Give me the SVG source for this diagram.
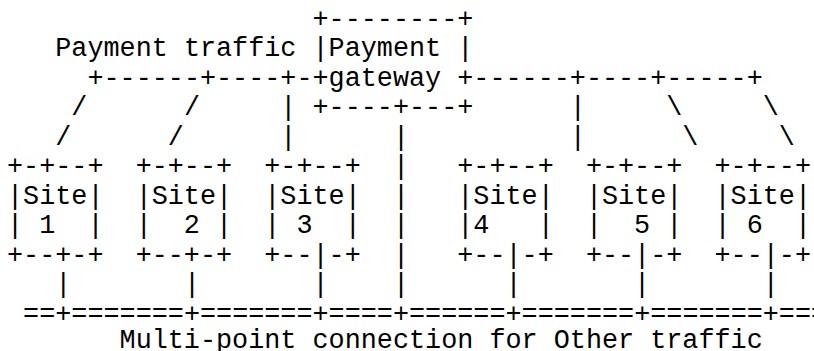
<svg xmlns="http://www.w3.org/2000/svg" width="814" height="351" viewBox="0 0 814 351" xml:space="preserve">
<style>
text { font-family: "Courier New", "Nimbus Mono PS", "Nimbus Mono L", "FreeMono", "Liberation Mono", monospace; font-size: 26.8px; fill: #000; white-space: pre; }
</style>
<rect x="0" y="0" width="814" height="351" fill="#fff"/>
<g id="gateway">
<text x="312.52" y="26.5">+--------+</text>
<text x="312.52" y="56">|Payment |</text>
<text x="312.52" y="85.5">+gateway +</text>
<text x="312.52" y="115">+----+---+</text>
</g>
<g id="site1">
<text x="7" y="174">+-+--+</text>
<text x="7" y="203.5">|Site|</text>
<text x="7" y="233">| 1  |</text>
<text x="7" y="262.5">+--+-+</text>
</g>
<g id="site2">
<text x="135.64" y="174">+-+--+</text>
<text x="135.64" y="203.5">|Site|</text>
<text x="135.64" y="233">|  2 |</text>
<text x="135.64" y="262.5">+--+-+</text>
</g>
<g id="site3">
<text x="264.28" y="174">+-+--+</text>
<text x="264.28" y="203.5">|Site|</text>
<text x="264.28" y="233">| 3  |</text>
<text x="264.28" y="262.5">+--|-+</text>
</g>
<g id="site4">
<text x="457.24" y="174">+-+--+</text>
<text x="457.24" y="203.5">|Site|</text>
<text x="457.24" y="233">|4   |</text>
<text x="457.24" y="262.5">+--|-+</text>
</g>
<g id="site5">
<text x="585.88" y="174">+-+--+</text>
<text x="585.88" y="203.5">|Site|</text>
<text x="585.88" y="233">|  5 |</text>
<text x="585.88" y="262.5">+--|-+</text>
</g>
<g id="site6">
<text x="714.52" y="174">+-+--+</text>
<text x="714.52" y="203.5">|Site|</text>
<text x="714.52" y="233">| 6  |</text>
<text x="714.52" y="262.5">+--|-+</text>
</g>
<g id="connectors">
<text x="87.4" y="85.5">+------+----+-</text>
<text x="473.32" y="85.5">------+----+-----+</text>
<text x="71.32" y="115">/</text>
<text x="183.88" y="115">/</text>
<text x="280.36" y="115">|</text>
<text x="569.8" y="115">|</text>
<text x="666.28" y="115">\</text>
<text x="762.76" y="115">\</text>
<text x="55.24" y="144.5">/</text>
<text x="167.8" y="144.5">/</text>
<text x="280.36" y="144.5">|</text>
<text x="392.92" y="144.5">|</text>
<text x="569.8" y="144.5">|</text>
<text x="682.36" y="144.5">\</text>
<text x="778.84" y="144.5">\</text>
<text x="392.92" y="174">|</text>
<text x="392.92" y="203.5">|</text>
<text x="392.92" y="233">|</text>
<text x="392.92" y="262.5">|</text>
<text x="55.24" y="292">|</text>
<text x="183.88" y="292">|</text>
<text x="312.52" y="292">|</text>
<text x="392.92" y="292">|</text>
<text x="505.48" y="292">|</text>
<text x="634.12" y="292">|</text>
<text x="762.76" y="292">|</text>
<text x="23.08" y="321.5">==+=======+=======+====+======+=======+=======+===</text>
</g>
<g id="labels">
<text x="55.24" y="56">Payment traffic</text>
<text x="119.56" y="348">Multi-point connection for Other traffic</text>
</g>
</svg>
